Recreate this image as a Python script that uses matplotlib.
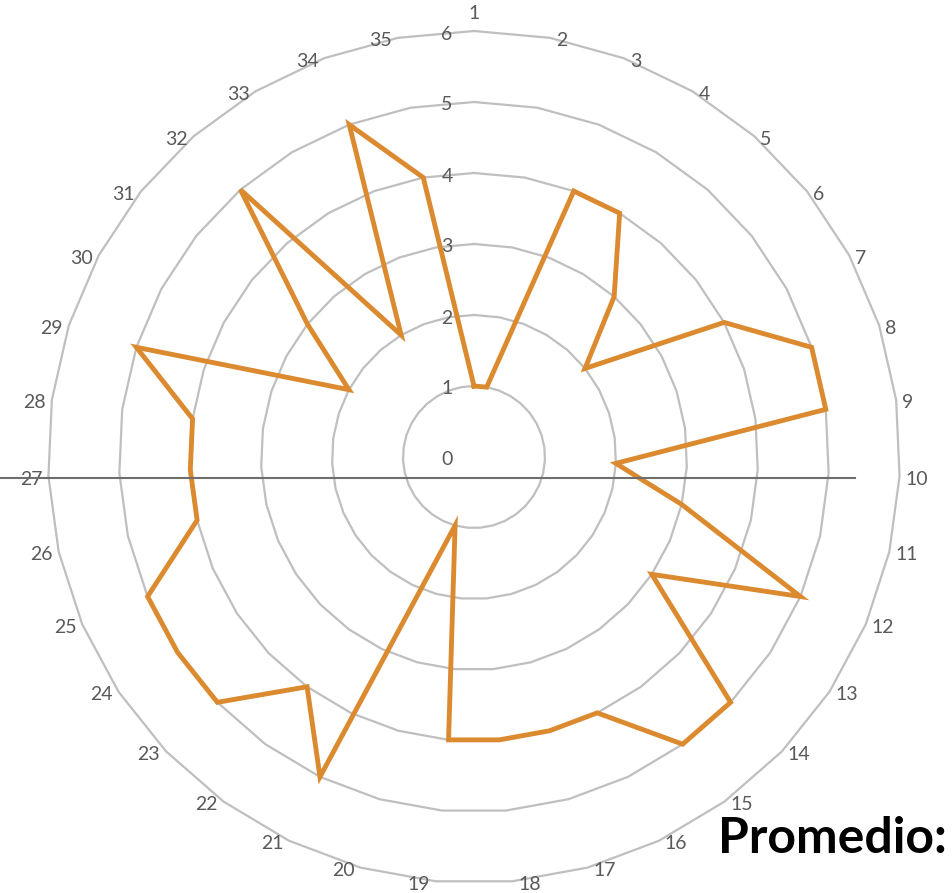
import numpy as np
import matplotlib
matplotlib.use("Agg")
import matplotlib.pyplot as plt
from matplotlib.transforms import offset_copy
from matplotlib.lines import Line2D

# ---- data ----
categories = [str(i) for i in range(1, 36)]
values = [1, 1, 4, 4, 3, 2, 4, 5, 5, 2, 3, 5, 3, 5, 5, 4, 4, 4, 4, 1,
          5, 4, 5, 5, 5, 4, 4, 4, 5, 2, 3, 5, 2, 5, 4]
radial_ticks = [0, 1, 2, 3, 4, 5, 6]
title_text = "Promedio:"

plt.rcParams['font.family'] = ['Lato', 'DejaVu Sans']

W, H, DPI = 953, 893, 100
fig = plt.figure(figsize=(W / DPI, H / DPI), dpi=DPI)
cx, cy, R = 474, 457, 426
ax = fig.add_axes([(cx - R) / W, (H - cy - R) / H, 2 * R / W, 2 * R / H],
                  projection='polar')
ax.set_theta_zero_location('N')
ax.set_theta_direction(-1)
ax.set_ylim(0, 6)
ax.grid(False)
ax.spines['polar'].set_visible(False)
ax.set_xticks([])
ax.set_yticks([])
ax.patch.set_alpha(0)

n = len(categories)
theta = np.arange(n) * 2 * np.pi / n
theta_c = np.append(theta, theta[0])

# polygon gridlines
for k in radial_ticks[1:]:
    ax.plot(theta_c, [k] * (n + 1), color='#BFBFBF', lw=1.6, clip_on=False, zorder=1)

# data line
vals_c = np.append(values, values[0])
ax.plot(theta_c, vals_c, color='#DB8A2F', lw=3.5, solid_joinstyle='miter',
        clip_on=False, zorder=3)

# category labels (anchored beside the outer ring vertex, Excel style)
rmax = radial_ticks[-1]
for t, lab in zip(theta, categories):
    s = np.sin(t)
    if abs(s) < 1e-6:
        tr = offset_copy(ax.transData, fig=fig, x=0, y=9, units='dots')
        ha, va = 'center', 'bottom'
    else:
        tr = offset_copy(ax.transData, fig=fig, x=6 if s > 0 else -6, y=-3,
                         units='dots')
        ha, va = ('left' if s > 0 else 'right'), 'center'
    ax.text(t, rmax, lab, transform=tr, ha=ha, va=va, fontsize=14,
            color='#595959', clip_on=False, zorder=4)

# radial value labels
tr = offset_copy(ax.transData, fig=fig, x=-27, y=-3, units='dots')
for k in radial_ticks:
    ax.text(0, k, str(k), transform=tr, ha='center', va='center', fontsize=14,
            color='#595959', clip_on=False, zorder=4)

# horizontal line across
fig.add_artist(Line2D([0, 855 / W], [1 - 478 / H, 1 - 478 / H],
                      color='#6E6E6E', lw=1.5, transform=fig.transFigure))

fig.text(718 / W, 1 - 853 / H, title_text, ha='left', va='baseline',
         fontsize=36, fontweight='bold', color='black')

fig.savefig('out.png', dpi=DPI)
